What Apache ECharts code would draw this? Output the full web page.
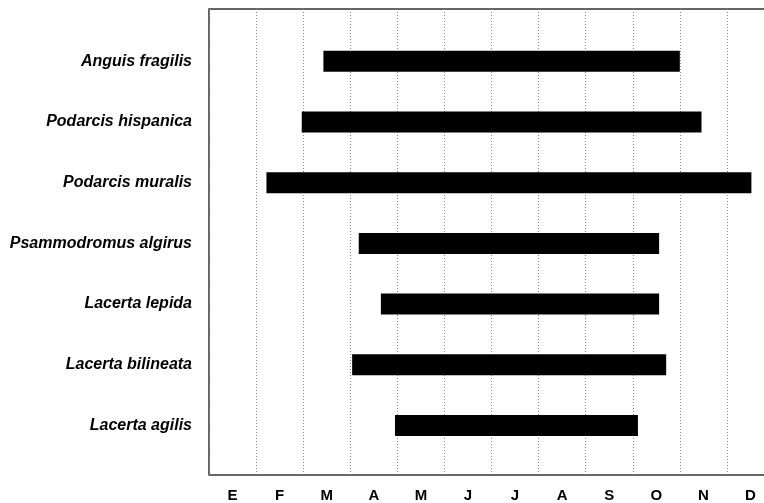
<!DOCTYPE html>
<html>
<head>
<meta charset="utf-8">
<script src="https://cdn.jsdelivr.net/npm/echarts@6/dist/echarts.min.js"></script>
<style>
html, body { margin: 0; padding: 0; background: #fff; overflow: hidden; }
/* the original figure is cropped on the right, so the chart is a little wider than the window */
#chart { width: 780px; height: 503px; }
</style>
</head>
<body>
<div id="chart"></div>
<script>
// month initials (Spanish), species, and activity period in months from 1 Jan (0) to 31 Dec (12)
var months = ['E', 'F', 'M', 'A', 'M', 'J', 'J', 'A', 'S', 'O', 'N', 'D'];
var species = ['Anguis fragilis', 'Podarcis hispanica', 'Podarcis muralis', 'Psammodromus algirus',
    'Lacerta lepida', 'Lacerta bilineata', 'Lacerta agilis'];
var startMonth = [2.43, 1.97, 1.22, 3.18, 3.65, 3.04, 3.95];
var endMonth = [10.0, 10.46, 11.52, 9.56, 9.56, 9.71, 9.11];

var lengths = endMonth.map(function (e, i) { return +(e - startMonth[i]).toFixed(2); });

var chart = echarts.init(document.getElementById('chart'));
var font = '"Liberation Sans", Arial, Helvetica, sans-serif';

var option = {
    animation: false,
    backgroundColor: '#fff',
    grid: [
        // frame with month axis
        { left: 209, top: 9, width: 565, height: 468, show: true, borderColor: '#333', borderWidth: 1.5, backgroundColor: 'transparent' },
        // bars
        { left: 209, top: 31, width: 565, height: 424.8 }
    ],
    xAxis: [
        {
            gridIndex: 0,
            type: 'category',
            data: months,
            boundaryGap: true,
            axisLine: { show: false },
            axisTick: { show: false },
            axisLabel: { color: '#000', fontFamily: font, fontWeight: 'bold', fontSize: 15, margin: 13 },
            splitLine: { show: true, lineStyle: { color: '#888', type: [1, 2], width: 1 } }
        },
        { gridIndex: 1, type: 'value', min: 0, max: 12, show: false }
    ],
    yAxis: [
        { gridIndex: 0, type: 'value', show: false },
        {
            gridIndex: 1,
            type: 'category',
            data: species,
            inverse: true,
            axisLine: { show: false },
            axisTick: { show: false },
            splitLine: { show: false },
            axisLabel: { color: '#000', fontFamily: font, fontWeight: 'bold', fontStyle: 'italic', fontSize: 16, margin: 17 }
        }
    ],
    series: [
        {
            type: 'bar', xAxisIndex: 1, yAxisIndex: 1, stack: 'period',
            data: startMonth, barWidth: 21,
            itemStyle: { color: 'transparent' }, silent: true
        },
        {
            type: 'bar', xAxisIndex: 1, yAxisIndex: 1, stack: 'period',
            data: lengths, barWidth: 21,
            itemStyle: { color: '#000' }
        }
    ]
};

chart.setOption(option);
</script>
</body>
</html>
